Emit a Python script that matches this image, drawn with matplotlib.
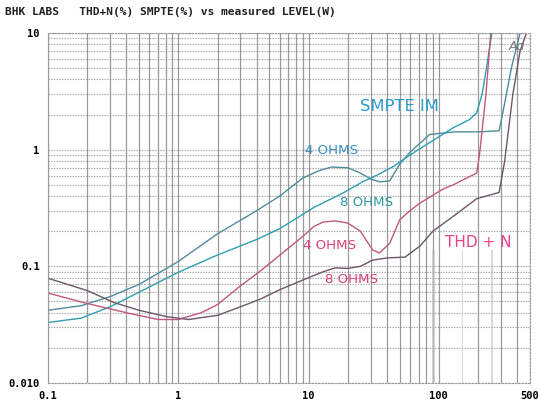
import matplotlib
matplotlib.use("Agg")
import matplotlib.pyplot as plt
from matplotlib.ticker import FixedLocator, NullFormatter, LogLocator

# ---- data ----
smpte_4_w = [0.1, 0.18, 0.3, 0.5, 1, 2, 4, 6, 9, 12, 15, 20, 25, 30, 35, 42, 50, 60, 85, 130, 200, 290, 320, 360, 420]
smpte_4_v = [0.042, 0.046, 0.055, 0.07, 0.11, 0.19, 0.30, 0.40, 0.57, 0.66, 0.71, 0.70, 0.63, 0.56, 0.53, 0.54, 0.75, 0.95, 1.35, 1.42, 1.42, 1.45, 2.5, 5.0, 10.0]

smpte_8_w = [0.1, 0.18, 0.3, 0.5, 1, 2, 4, 6, 11, 18, 26, 35, 45, 60, 85, 130, 170, 195, 215, 235, 255]
smpte_8_v = [0.033, 0.036, 0.045, 0.06, 0.089, 0.125, 0.17, 0.21, 0.32, 0.42, 0.53, 0.62, 0.72, 0.9, 1.15, 1.55, 1.8, 2.06, 3.0, 5.5, 10.0]

thd_4_w = [0.1, 0.2, 0.4, 0.7, 1.0, 1.5, 2, 3, 4.2, 6.3, 9, 11, 13, 16, 20, 25, 31, 35, 42, 50, 60, 72, 108, 129, 195, 205, 230, 250]
thd_4_v = [0.059, 0.048, 0.04, 0.035, 0.035, 0.04, 0.047, 0.068, 0.09, 0.13, 0.18, 0.22, 0.24, 0.245, 0.235, 0.2, 0.138, 0.13, 0.158, 0.25, 0.30, 0.35, 0.46, 0.5, 0.63, 0.9, 3.0, 10.0]

thd_8_w = [0.1, 0.2, 0.32, 0.5, 0.82, 1.2, 2, 3, 4.2, 6, 10, 13, 16, 20, 25, 31, 40, 55, 72, 90, 130, 195, 290, 320, 370, 420, 470]
thd_8_v = [0.079, 0.062, 0.049, 0.042, 0.037, 0.035, 0.038, 0.045, 0.052, 0.063, 0.08, 0.09, 0.097, 0.096, 0.1, 0.113, 0.118, 0.12, 0.15, 0.2, 0.27, 0.38, 0.43, 0.8, 3.0, 7.0, 10.0]

x_ticks = [0.1, 1, 10, 100, 500]
x_labels = ["0.1", "1", "10", "100", "500"]
y_ticks = [0.01, 0.1, 1, 10]
y_labels = ["0.010", "0.1", "1", "10"]

title = "BHK LABS   THD+N(%) SMPTE(%) vs measured LEVEL(W)"

fig = plt.figure(figsize=(5.38, 4.08), dpi=100)
ax = fig.add_axes([0.0892, 0.0613, 0.8958, 0.8578])
ax.set_xscale("log")
ax.set_yscale("log")
ax.set_xlim(0.1, 500)
ax.set_ylim(0.01, 10)

# grid: vertical solid-ish, horizontal dotted
ax.xaxis.set_major_locator(FixedLocator(x_ticks))
ax.xaxis.set_minor_locator(LogLocator(base=10, subs=range(2, 10), numticks=20))
ax.yaxis.set_major_locator(FixedLocator(y_ticks))
ax.yaxis.set_minor_locator(LogLocator(base=10, subs=range(2, 10), numticks=20))
ax.xaxis.set_minor_formatter(NullFormatter())
ax.yaxis.set_minor_formatter(NullFormatter())
ax.grid(True, axis="x", which="both", color="#7a7a7a", linewidth=0.9, linestyle="-", alpha=0.75)
ax.grid(True, axis="y", which="both", color="#707070", linewidth=0.8, linestyle=(0, (1.2, 1.2)), alpha=0.65)
ax.set_axisbelow(True)

# scan artefact bands
for x0, x1 in [(88, 93), (150, 154), (250, 262)]:
    ax.axvspan(x0, x1, ymin=0.0, ymax=0.38, color="#c0c0c0", alpha=0.6, lw=0)

ax.set_xticks(x_ticks)
ax.set_xticklabels(x_labels)
ax.set_yticks(y_ticks)
ax.set_yticklabels(y_labels)
for lab in ax.get_xticklabels() + ax.get_yticklabels():
    lab.set_family("DejaVu Sans Mono")
    lab.set_fontweight("bold")
    lab.set_fontsize(7.5)
ax.tick_params(which="both", length=0, pad=6)
for s in ax.spines.values():
    s.set_color("#9a9a9a")
    s.set_linewidth(0.8)
    s.set_linestyle((0, (1.5, 1.5)))
ax.spines["left"].set_linestyle("-")

ax.plot(smpte_4_w, smpte_4_v, color="#4e8c9c", lw=1.0)
ax.plot(smpte_8_w, smpte_8_v, color="#2f9fb0", lw=1.0)
ax.plot(thd_4_w, thd_4_v, color="#c0587e", lw=1.0)
ax.plot(thd_8_w, thd_8_v, color="#6e5668", lw=1.0)

fig.text(0.01, 0.970, title, family="DejaVu Sans Mono", fontweight="bold", fontsize=8.1, color="#222222", va="center", ha="left")

ax.text(0.648, 0.789, "SMPTE IM", transform=ax.transAxes, color="#2a9ccc", fontsize=11.8, ha="left", va="center", family="DejaVu Sans")
ax.text(0.533, 0.665, "4 OHMS", transform=ax.transAxes, color="#3a8cc4", fontsize=9.6, ha="left", va="center", family="DejaVu Sans")
ax.text(0.605, 0.515, "8 OHMS", transform=ax.transAxes, color="#2a9aa0", fontsize=9.6, ha="left", va="center", family="DejaVu Sans")
ax.text(0.530, 0.394, "4 OHMS", transform=ax.transAxes, color="#e0407a", fontsize=9.6, ha="left", va="center", family="DejaVu Sans")
ax.text(0.575, 0.297, "8 OHMS", transform=ax.transAxes, color="#e0407a", fontsize=9.6, ha="left", va="center", family="DejaVu Sans")
ax.text(0.823, 0.40, "THD + N", transform=ax.transAxes, color="#e8408a", fontsize=11, ha="left", va="center", family="DejaVu Sans")
ax.text(0.955, 0.962, "Ad", transform=ax.transAxes, color="#777777", fontsize=9, ha="left", va="center", style="italic", family="DejaVu Sans")

fig.savefig("out.png", dpi=100)
